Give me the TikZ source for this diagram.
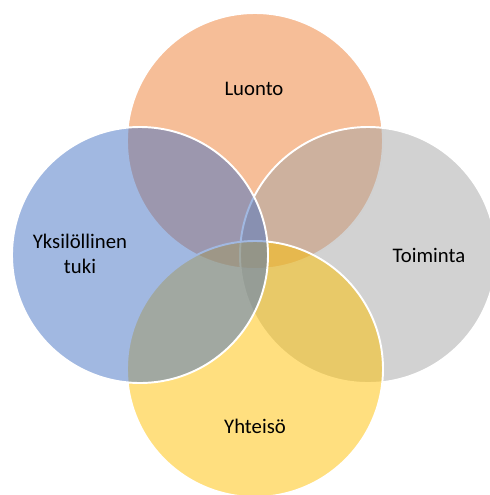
\documentclass[tikz,border=0pt]{standalone}
\usepackage{fontspec}
\setmainfont{Carlito}
\usepackage{xcolor}
\usepackage{tikz}

\definecolor{accblue}{HTML}{4472C4}
\definecolor{accorange}{HTML}{ED7D31}
\definecolor{accgray}{HTML}{A5A5A5}
\definecolor{accyellow}{HTML}{FFC000}

\tikzset{
    venn/.style={fill opacity=0.5, draw=white, line width=1.1pt},
    venntext/.style={font=\fontsize{11.8}{12}\selectfont, text=black, align=center, anchor=base}
}

\begin{document}
\begin{tikzpicture}[x=0.02cm, y=-0.02cm]
        % Frame
        \clip (0,0) rectangle (490,495);

        % Circles
        \filldraw[venn, fill=accorange] (255,141) circle (128);
        \filldraw[venn, fill=accgray] (368,255) circle (128);
        \filldraw[venn, fill=accyellow] (255,369) circle (128);
        \filldraw[venn, fill=accblue] (140,255) circle (128);

        % Labels
        \node[venntext] (luonto) at (254,95) {Luonto};
        \node[venntext] (toiminta) at (429,262) {Toiminta};
        \node[venntext] (yhteiso) at (255,433) {Yhteisö};
        \node[venntext] (tuki) at (80,273) {Yksilöllinen\\[2pt]tuki};
    \end{tikzpicture}
\end{document}
